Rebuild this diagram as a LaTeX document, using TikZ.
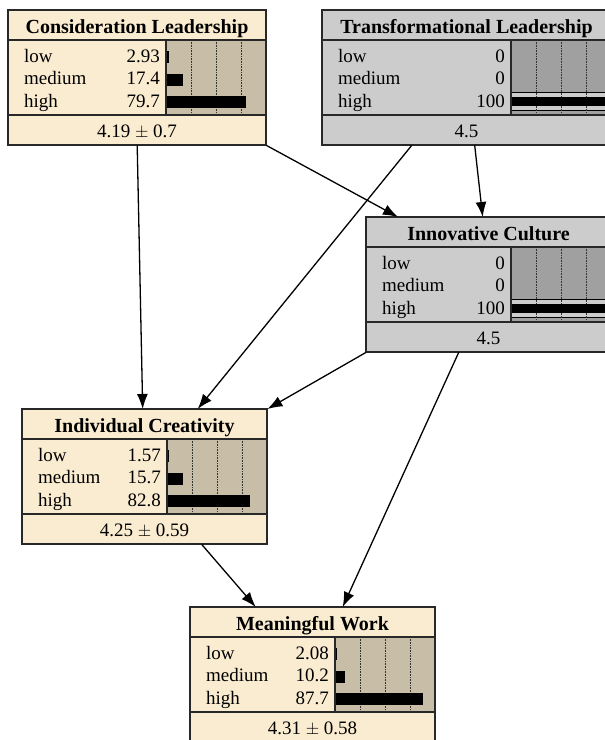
\documentclass[tikz,border=0pt]{standalone}
\usepackage{fontspec}
\setmainfont{Liberation Serif}
\usetikzlibrary{arrows.meta}

\definecolor{creamfill}{RGB}{250,236,208}
\definecolor{creambars}{RGB}{200,190,168}
\definecolor{greyfill}{RGB}{204,204,204}
\definecolor{greybars}{RGB}{160,160,160}
\definecolor{edgeline}{RGB}{40,40,40}

\tikzset{
  netbox/.style={rectangle, inner sep=0pt, minimum height=135pt},
  boxline/.style={draw=edgeline, line width=1.2pt},
  titletext/.style={font=\fontsize{20}{22}\selectfont\bfseries, inner sep=0pt},
  statetext/.style={font=\fontsize{19}{21}\selectfont, inner sep=0pt},
  dotline/.style={densely dotted, line width=0.6pt, black!80},
  link/.style={-{Latex[length=15pt,width=11pt]}, line width=1.3pt, black},
}

% #1 name, #2 top left, #3 width, #4 fill, #5 bar fill, #6 title, #7 states, #8 mean
\newcommand{\beliefbox}[8]{%
  \node[netbox, fill=#4, minimum width=#3pt, anchor=north west] (#1) at (#2) {};
  \begin{scope}[shift={(#1.north west)}]
    \fill[#5] ({#3-100},30) rectangle (#3,105);
    \foreach \lab/\val [count=\i] in {#7} {
      \pgfmathsetmacro{\bl}{52+22.5*(\i-1)}
      \node[statetext, anchor=base west] at (16,\bl) {\lab};
      \node[statetext, anchor=base east] at ({#3-106},\bl) {\val};
      \ifdim\val pt>99pt
        \fill[#4] ({#3-100},\bl-15) rectangle (#3,\bl+3);
        \draw[line width=0.8pt] ({#3-100},\bl-15) -- (#3,\bl-15) ({#3-100},\bl+3) -- (#3,\bl+3);
      \fi
    }
    \foreach \q in {25,50,75}
      \draw[dotline] ({#3-100+\q},30) -- ({#3-100+\q},105);
    \foreach \lab/\val [count=\i] in {#7} {
      \pgfmathsetmacro{\bl}{52+22.5*(\i-1)}
      \ifdim\val pt>99pt
        \fill ({#3-100},\bl-10) rectangle (#3,\bl-1);
      \else
        \fill ({#3-100},\bl-11) rectangle ({#3-100+\val},\bl+1);
      \fi
    }
    \node[titletext, anchor=base] at ({#3/2},23) {#6};
    \node[statetext, anchor=base] at ({#3/2},127) {#8};
    \draw[boxline] (0,30) -- (#3,30) (0,105) -- (#3,105) ({#3-100},30) -- ({#3-100},105);
    \draw[boxline] (0,0) rectangle (#3,135);
  \end{scope}
}

\begin{document}
\begin{tikzpicture}[x=1pt, y=-1pt]
  \useasboundingbox (0,0) rectangle (605,740);
  \clip (0,0) rectangle (605,740);

  \beliefbox{cl}{8,10}{258}{creamfill}{creambars}{Consideration Leadership}{low/2.93, medium/17.4, high/79.7}{4.19 $\pm$ 0.7}
  \beliefbox{tl}{322,10}{289}{greyfill}{greybars}{Transformational Leadership}{low/0, medium/0, high/100}{4.5}
  \beliefbox{ic}{366,217}{245}{greyfill}{greybars}{Innovative Culture}{low/0, medium/0, high/100}{4.5}
  \beliefbox{ind}{22,409}{245}{creamfill}{creambars}{Individual Creativity}{low/1.57, medium/15.7, high/82.8}{4.25 $\pm$ 0.59}
  \beliefbox{mw}{190,607}{245}{creamfill}{creambars}{Meaningful Work}{low/2.08, medium/10.2, high/87.7}{4.31 $\pm$ 0.58}

  % links
  \draw[link] (cl.south) -- ([xshift=-2pt]ind.north);
  \draw[link] (cl.south east) -- ([xshift=32pt]ic.north west);
  \draw[link] ([xshift=8pt]tl.south) -- ([xshift=-6pt]ic.north);
  \draw[link] ([xshift=-55pt]tl.south) -- ([xshift=53pt]ind.north);
  \draw[link] (ic.south west) -- (ind.north east);
  \draw[link] ([xshift=-30pt]ic.south) -- ([xshift=30pt]mw.north);
  \draw[link] ([xshift=57pt]ind.south) -- ([xshift=-57pt]mw.north);
\end{tikzpicture}
\end{document}
